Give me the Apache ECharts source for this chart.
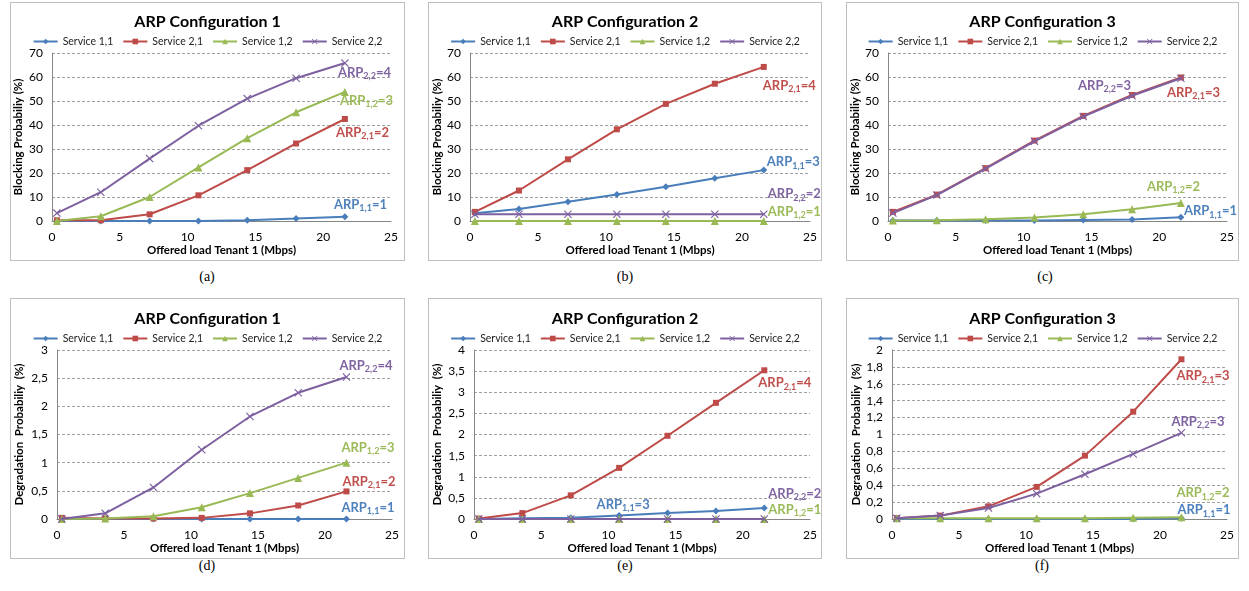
<!DOCTYPE html>
<html>
<head>
<meta charset="utf-8">
<script src="https://cdn.jsdelivr.net/npm/echarts@6/dist/echarts.min.js"></script>
<style>
  body { margin: 0; background: #fff; width: 1249px; height: 591px; position: relative; overflow: hidden; }
  .box { position: absolute; border: 1px solid #bfbfbf; box-sizing: border-box; }
  .cap { position: absolute; width: 40px; text-align: center; font-family: "Liberation Serif", "DejaVu Serif", serif; font-size: 14px; color: #000; }
</style>
</head>
<body>
<div id="pa" class="box" style="left:10px;top:2px;width:395px;height:259px"></div>
<div id="pb" class="box" style="left:428px;top:2px;width:394px;height:259px"></div>
<div id="pc" class="box" style="left:846px;top:2px;width:393px;height:259px"></div>
<div id="pd" class="box" style="left:10px;top:298px;width:395px;height:261px"></div>
<div id="pe" class="box" style="left:428px;top:298px;width:394px;height:261px"></div>
<div id="pf" class="box" style="left:846px;top:298px;width:393px;height:261px"></div>
<div class="cap" style="left:187px;top:269px">(a)</div>
<div class="cap" style="left:605px;top:269px">(b)</div>
<div class="cap" style="left:1025px;top:269px">(c)</div>
<div class="cap" style="left:187px;top:558px">(d)</div>
<div class="cap" style="left:605px;top:558px">(e)</div>
<div class="cap" style="left:1022px;top:558px">(f)</div>
<script>
// offered load of tenant 1 (Mbps), shared by all panels
const loadMbps = [0.36, 3.6, 7.2, 10.8, 14.4, 18, 21.6];
const seriesNames = ['Service 1,1', 'Service 2,1', 'Service 1,2', 'Service 2,2'];
const xTicks = [0, 5, 10, 15, 20, 25];

// blocking probability (%), configs 1..3
const blk1_s11 = [0, 0, 0, 0, 0.3, 1.0, 1.8];
const blk1_s21 = [0.3, 0.3, 2.8, 10.7, 21.2, 32.3, 42.5];
const blk1_s12 = [0, 2.0, 10.0, 22.3, 34.5, 45.3, 53.8];
const blk1_s22 = [3.3, 12.0, 26.0, 39.7, 51.0, 59.5, 65.8];

const blk2_s11 = [3.2, 5.0, 8.0, 11.0, 14.3, 17.8, 21.2];
const blk2_s21 = [3.8, 12.7, 25.7, 38.2, 48.8, 57.2, 64.2];
const blk2_s12 = [0, 0, 0, 0, 0, 0, 0];
const blk2_s22 = [2.8, 2.8, 2.8, 2.8, 2.8, 2.8, 2.8];

const blk3_s11 = [0.2, 0.2, 0.2, 0.2, 0.4, 0.6, 1.6];
const blk3_s21 = [3.8, 11.0, 22.0, 33.5, 43.8, 52.5, 59.8];
const blk3_s12 = [0.2, 0.3, 0.7, 1.5, 2.8, 4.9, 7.5];
const blk3_s22 = [3.3, 10.8, 21.8, 33.2, 43.5, 52.2, 59.5];

// degradation probability (%), configs 1..3
const deg1_s11 = [0, 0, 0, 0, 0, 0, 0];
const deg1_s21 = [0.02, 0.01, 0.01, 0.02, 0.1, 0.24, 0.49];
const deg1_s12 = [0, 0.01, 0.05, 0.21, 0.46, 0.73, 1.0];
const deg1_s22 = [0, 0.1, 0.56, 1.23, 1.82, 2.24, 2.52];

const deg2_s11 = [0, 0.02, 0.03, 0.08, 0.14, 0.19, 0.26];
const deg2_s21 = [0.01, 0.14, 0.56, 1.21, 1.97, 2.75, 3.52];
const deg2_s12 = [0, 0, 0, 0, 0, 0, 0];
const deg2_s22 = [0, 0, 0, 0, 0, 0, 0];

const deg3_s11 = [0, 0, 0, 0, 0, 0, 0.01];
const deg3_s21 = [0.01, 0.04, 0.15, 0.38, 0.75, 1.27, 1.89];
const deg3_s12 = [0.01, 0.01, 0.01, 0.01, 0.01, 0.015, 0.02];
const deg3_s22 = [0.01, 0.04, 0.13, 0.30, 0.53, 0.77, 1.02];

const colors = ['#4A7EBB', '#BE4B48', '#98B954', '#7D60A0'];
const labelColors = ['#4F81BD', '#C0504D', '#9BBB59', '#8064A2'];
const xMark = 'path://M0,1L1,0L5,4L9,0L10,1L6,5L10,9L9,10L5,6L1,10L0,9L4,5Z';
const symbols = ['diamond', 'rect', 'triangle', xMark];
const symbolSizes = [7, 6, 8, 8];

const FONT = 'Lato, "Open Sans", sans-serif';

// label: [point index, subscript, value, dx, dy, align]
function makePanel(domId, title, yName, yMax, yStep, seriesData, labels, g) {
  const chart = echarts.init(document.getElementById(domId));
  const series = seriesData.map((vals, i) => {
    const lb = labels[i];
    const data = vals.map((v, k) => {
      const item = { value: [loadMbps[k], v] };
      if (lb && lb[0] === k) {
        item.label = {
          show: true,
          position: 'inside',
          align: lb[5] || 'left',
          verticalAlign: 'middle',
          offset: [lb[3], lb[4]],
          formatter: '{b|ARP}{s|' + lb[1] + '}{b|=' + lb[2] + '}',
          rich: {
            b: { fontFamily: FONT, fontSize: 13, fontWeight: 'bold', color: labelColors[i], lineHeight: 16 },
            s: { fontFamily: FONT, fontSize: 9, fontWeight: 'bold', color: labelColors[i], lineHeight: 10, verticalAlign: 'bottom' }
          }
        };
      }
      return item;
    });
    return {
      name: seriesNames[i],
      type: 'line',
      data: data,
      symbol: symbols[i],
      symbolSize: symbolSizes[i],
      showSymbol: true,
      lineStyle: { color: colors[i], width: 2 },
      itemStyle: { color: colors[i] },
      z: 2 + i * 0.1,
      animation: false
    };
  });
  chart.setOption({
    animation: false,
    title: {
      text: title, left: 'center', top: g.titleTop,
      textStyle: { fontFamily: FONT, fontSize: 16, fontWeight: 'bold', color: '#000' }
    },
    legend: {
      data: seriesNames, left: 'center', top: g.legendTop,
      itemWidth: 24, itemHeight: 7, itemGap: 9,
      textStyle: { fontFamily: FONT, fontSize: 10.5, color: '#222' }
    },
    grid: { left: g.left, top: g.top, width: g.width, height: g.height, outerBoundsMode: 'none', containLabel: false },
    xAxis: {
      type: 'value', min: xTicks[0], max: xTicks[xTicks.length - 1], interval: 5,
      name: 'Offered load Tenant 1 (Mbps)', nameLocation: 'middle', nameGap: 23, nameMoveOverlap: false,
      nameTextStyle: { fontFamily: FONT, fontSize: 11.5, fontWeight: 'bold', color: '#000' },
      axisLine: { lineStyle: { color: '#868686' } },
      axisTick: { show: false },
      axisLabel: { fontFamily: FONT, fontSize: 12, color: '#000', margin: 10 },
      splitLine: { show: false }
    },
    yAxis: {
      type: 'value', min: 0, max: yMax, interval: yStep,
      name: yName, nameLocation: 'middle', nameGap: g.nameGap, nameMoveOverlap: false,
      nameTextStyle: { fontFamily: FONT, fontSize: 11.5, fontWeight: 'bold', color: '#000' },
      axisLine: { show: true, lineStyle: { color: '#868686' } },
      axisTick: { show: false },
      axisLabel: {
        fontFamily: FONT, fontSize: 12, color: '#000', margin: 9,
        formatter: v => String(Math.round(v * 10) / 10).replace('.', ',')
      },
      splitLine: { show: true, lineStyle: { color: '#a0a0a0', type: [3, 2] } }
    },
    series: series
  });
}

const topRow = { titleTop: 6, legendTop: 28, top: 50, height: 168 };
const botRow = { titleTop: 7, legendTop: 29, top: 51, height: 169 };

makePanel('pa', 'ARP Configuration 1', 'Blocking Probabiliy (%)', 70, 10,
  [blk1_s11, blk1_s21, blk1_s12, blk1_s22],
  [[6, '1,1', 1, -11, -12], [6, '2,1', 2, -9, 14], [6, '1,2', 3, -5, 9], [6, '2,2', 4, -7, 10]],
  Object.assign({ left: 41, width: 339, nameGap: 28 }, topRow));

makePanel('pb', 'ARP Configuration 2', 'Blocking Probabiliy (%)', 70, 10,
  [blk2_s11, blk2_s21, blk2_s12, blk2_s22],
  [[6, '1,1', 3, 3, -8], [6, '2,1', 4, -1, 19], [6, '1,2', 1, 4, -9], [6, '2,2', 2, 4, -20]],
  Object.assign({ left: 41, width: 340, nameGap: 27 }, topRow));

makePanel('pc', 'ARP Configuration 3', 'Blocking Probabiliy (%)', 70, 10,
  [blk3_s11, blk3_s21, blk3_s12, blk3_s22],
  [[6, '1,1', 1, 3, -6], [6, '2,1', 3, -14, 15], [6, '1,2', 2, -34, -16], [5, '2,2', 3, -1, -10, 'right']],
  Object.assign({ left: 41, width: 339, nameGap: 27 }, topRow));

makePanel('pd', 'ARP Configuration 1', 'Degradation  Probabiliy  (%)', 3, 0.5,
  [deg1_s11, deg1_s21, deg1_s12, deg1_s22],
  [[6, '1,1', 1, -5, -11], [6, '2,1', 2, -4, -10], [6, '1,2', 3, -5, -15], [6, '2,2', 4, -7, -11]],
  Object.assign({ left: 46, width: 335, nameGap: 32 }, botRow));

makePanel('pe', 'ARP Configuration 2', 'Degradation  Probabiliy  (%)', 4, 0.5,
  [deg2_s11, deg2_s21, deg2_s12, deg2_s22],
  [[3, '1,1', 3, 4, -11, 'center'], [6, '2,1', 4, -6, 13], [6, '1,2', 1, 4, -9], [6, '2,2', 2, 4, -25]],
  Object.assign({ left: 45, width: 336, nameGap: 31 }, botRow));

makePanel('pf', 'ARP Configuration 3', 'Degradation  Probabiliy  (%)', 2, 0.2,
  [deg3_s11, deg3_s21, deg3_s12, deg3_s22],
  [[6, '1,1', 1, -4, -8], [6, '2,1', 3, -5, 17], [6, '1,2', 2, -5, -24], [6, '2,2', 3, -10, -11]],
  Object.assign({ left: 45, width: 335, nameGap: 30 }, botRow));
</script>
</body>
</html>
